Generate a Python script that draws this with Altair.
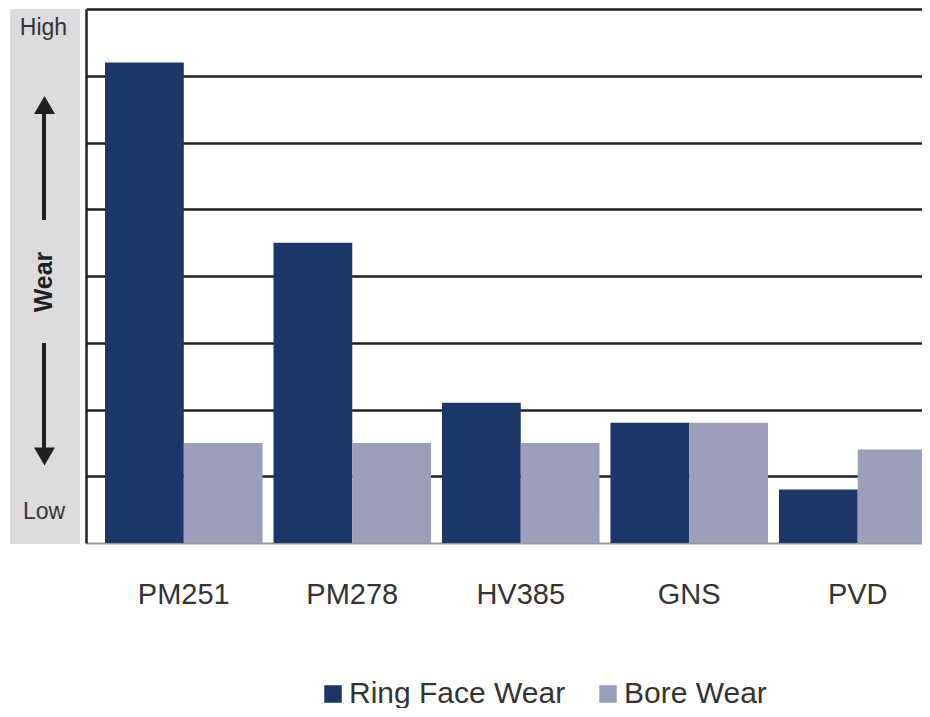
import altair as alt
import pandas as pd

materials = ["PM251", "PM278", "HV385", "GNS", "PVD"]
ring_face_wear = [7.2, 4.5, 2.1, 1.8, 0.8]
bore_wear = [1.5, 1.5, 1.5, 1.8, 1.4]
series_names = ["Ring Face Wear", "Bore Wear"]
series_colors = ["#1b3667", "#9d9eb9"]
grid_values = [1, 2, 3, 4, 5, 6, 7, 8]

rows = []
for m, r, b in zip(materials, ring_face_wear, bore_wear):
    rows.append({"material": m, "series": series_names[0], "value": r})
    rows.append({"material": m, "series": series_names[1], "value": b})
df = pd.DataFrame(rows)

FONT = "Liberation Sans"
TXT = "#333333"
DARK = "#231f20"

bars = alt.Chart(df).mark_bar(strokeWidth=0).encode(
    x=alt.X("material:N", sort=materials, title=None,
            scale=alt.Scale(paddingInner=0.065, paddingOuter=0.113, range=[0, 869.5]),
            axis=alt.Axis(labelFontSize=29, labelFont=FONT, labelColor=TXT,
                          labelAngle=0, labelBaseline="alphabetic",
                          labelPadding=60, ticks=False, tickSize=0,
                          domainColor="#9a9a9a", domainWidth=2, grid=False)),
    xOffset=alt.XOffset("series:N", sort=series_names,
                        scale=alt.Scale(paddingInner=0, paddingOuter=0)),
    y=alt.Y("value:Q", title=None,
            scale=alt.Scale(domain=[0, 8], nice=False, zero=True),
            axis=alt.Axis(values=grid_values, labels=False, ticks=False, tickSize=0,
                          domainColor=DARK, domainWidth=2.5,
                          grid=True, gridColor=DARK, gridWidth=2.5)),
    color=alt.Color("series:N", sort=series_names,
                    scale=alt.Scale(domain=series_names, range=series_colors),
                    legend=alt.Legend(title=None, orient="none", direction="horizontal",
                                      legendX=232, legendY=670,
                                      symbolType="square", symbolSize=306,
                                      symbolStrokeWidth=0, symbolOpacity=1,
                                      labelFontSize=30, labelFont=FONT, labelColor=TXT,
                                      labelOffset=1, columnPadding=27, labelLimit=400)),
)

one = pd.DataFrame({"a": [0]})

band = alt.Chart(one).mark_rect(color="#dcdcde").encode(
    x=alt.value(-76), x2=alt.value(-6), y=alt.value(0), y2=alt.value(535))

high = alt.Chart(one).mark_text(text="High", font=FONT, fontSize=23, color=TXT,
                                align="center", baseline="alphabetic").encode(
    x=alt.value(-42.5), y=alt.value(26))
low = alt.Chart(one).mark_text(text="Low", font=FONT, fontSize=23, color=TXT,
                               align="center", baseline="alphabetic").encode(
    x=alt.value(-42), y=alt.value(510))
wear = alt.Chart(one).mark_text(text="Wear", font=FONT, fontSize=25, fontWeight="bold",
                                color=DARK, angle=270, align="center",
                                baseline="alphabetic").encode(
    x=alt.value(-34), y=alt.value(273))

up_line = alt.Chart(one).mark_rule(color=DARK, strokeWidth=4).encode(
    x=alt.value(-42), y=alt.value(104), y2=alt.value(211))
down_line = alt.Chart(one).mark_rule(color=DARK, strokeWidth=4).encode(
    x=alt.value(-42), y=alt.value(334), y2=alt.value(440))
up_head = alt.Chart(one).mark_point(shape="M-1,0.857L0,-0.857L1,0.857Z", filled=True,
                                    size=441, color=DARK, opacity=1).encode(
    x=alt.value(-41.5), y=alt.value(96))
down_head = alt.Chart(one).mark_point(shape="M-1,-0.857L0,0.857L1,-0.857Z", filled=True,
                                      size=441, color=DARK, opacity=1).encode(
    x=alt.value(-41.5), y=alt.value(447.5))

chart = alt.layer(band, high, low, wear, up_line, down_line, up_head, down_head, bars).properties(
    width=836, height=534,
    autosize=alt.AutoSizeParams(type="none"),
    padding={"left": 78, "top": 1, "right": 0, "bottom": 165},
    background="white",
).configure_view(stroke=None)

chart.save("out.html", embed_options={"renderer": "svg", "actions": False})
